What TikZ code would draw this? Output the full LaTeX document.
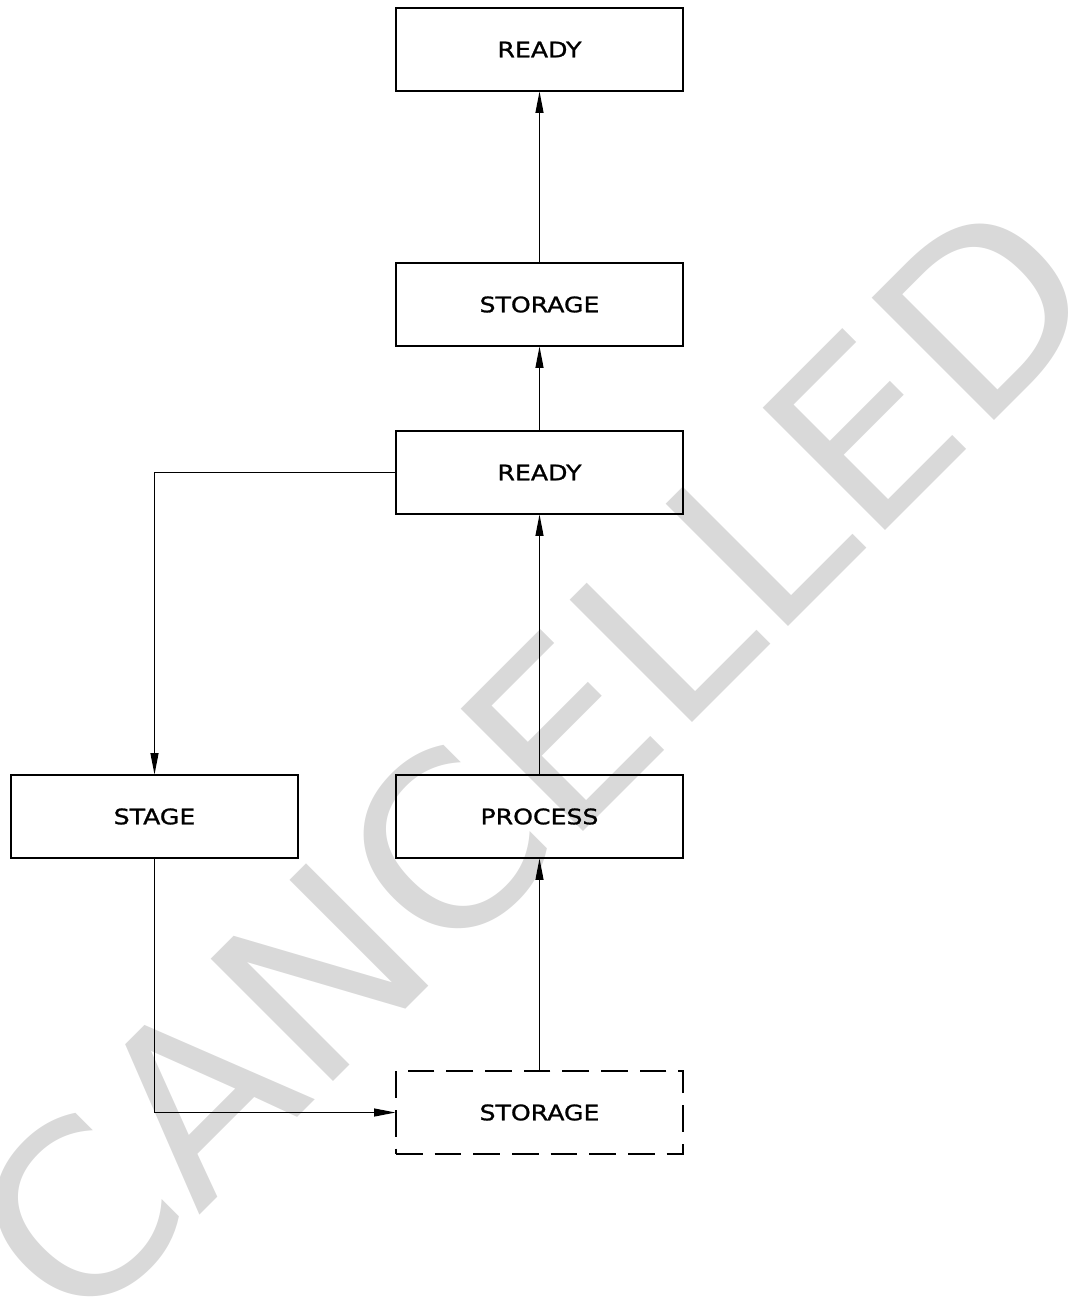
\documentclass[tikz,border=0pt]{standalone}
\usepackage{fontspec}
\setmainfont{DejaVu Sans}
\newfontfamily\labfont[FakeStretch=1.18,FakeBold=1.2]{DejaVu Sans}
\usetikzlibrary{arrows.meta}
\definecolor{wm}{HTML}{D9D9D9}
\tikzset{
  box/.style={draw=black, line width=0.8pt, fill=none, minimum width=215.25pt, minimum height=62.25pt, inner sep=0pt, font=\labfont\fontsize{16}{19}\selectfont},
  dashbox/.style={box, dash pattern=on 20pt off 9pt},
  arr/.style={draw=black, line width=0.8pt, -{Triangle[length=16pt,width=6pt]}},
  watermark/.style={text=wm, inner sep=0pt, rotate=45, xscale=1.03, font=\fontsize{178}{178}\selectfont}
}
\begin{document}
\begin{tikzpicture}[x=0.75pt,y=-0.75pt]
\useasboundingbox (0,0) rectangle (1071,1300);
\node[watermark] (wmark) at (533,760) {CANCELLED};
\node[box] (ready1) at (539.5,49.5) {READY};
\node[box] (storage1) at (539.5,304.5) {STORAGE};
\node[box] (ready2) at (539.5,472.5) {READY};
\node[box] (stage) at (154.5,816.5) {STAGE};
\node[box] (process) at (539.5,816.5) {PROCESS};
\node[dashbox] (storage2) at (539.5,1112.5) {STORAGE};
\draw[arr] (process.north) -- (ready2.south);
\draw[arr] (ready2.north) -- (storage1.south);
\draw[arr] (storage1.north) -- (ready1.south);
\draw[arr] (ready2.west) -| (stage.north);
\draw[arr] (stage.south) |- (storage2.west);
\draw[arr] (storage2.north) -- (process.south);
\end{tikzpicture}
\end{document}
